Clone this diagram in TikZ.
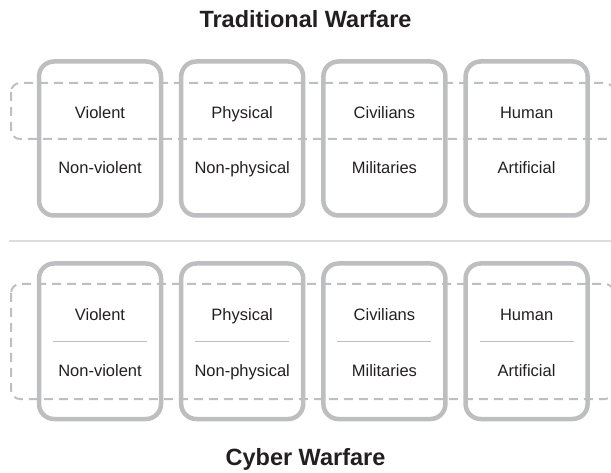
\documentclass[tikz,border=0pt]{standalone}
\usepackage{fontspec}
\setmainfont{Liberation Sans}
\definecolor{boxgray}{RGB}{188,190,192}
\definecolor{dashgray}{RGB}{190,191,193}
\definecolor{rulegray}{RGB}{221,221,221}
\definecolor{thingray}{RGB}{190,190,190}
\definecolor{textdark}{RGB}{35,31,32}
\begin{document}
\begin{tikzpicture}[x=1pt,y=-1pt,
  panel/.style={draw=boxgray, line width=4.5pt, rounded corners=15pt,
    minimum width=122pt, inner sep=0pt, outer sep=0pt},
  band/.style={draw=dashgray, line width=2pt, dash pattern=on 9pt off 6pt,
    rounded corners=9pt},
  lbl/.style={font=\fontsize{16.5}{19}\selectfont, text=textdark, anchor=base},
  heading/.style={font=\fontsize{23.5}{27}\selectfont\bfseries, text=textdark, anchor=base}
]
\useasboundingbox (0,0) rectangle (611,473);
\clip (0,0) rectangle (611,473);

% headings
\node[heading] (tw) at (305.5,28) {Traditional Warfare};
\node[heading] (cw) at (305.5,465) {Cyber Warfare};

% dashed bands behind the panels
\draw[band] (11,83) rectangle (614,139);
\draw[band] (11,284) rectangle (614,399);

% rule between the two halves
\coordinate (ruleL) at (9,241);
\coordinate (ruleR) at (611,241);
\draw[rulegray, line width=2pt] (ruleL) -- (ruleR);

% panels
\foreach \i/\cx/\a/\b in {1/100/Violent/Non-violent,
                          2/242.2/Physical/Non-physical,
                          3/384.4/Civilians/Militaries,
                          4/526.6/Human/Artificial}{
  % traditional warfare
  \node[panel, minimum height=154pt] (tp\i) at (\cx,138.5) {};
  \node[lbl] (ta\i) at (\cx,118.9) {\a};
  \node[lbl] (tb\i) at (\cx,173.9) {\b};
  % cyber warfare
  \node[panel, minimum height=155.5pt] (cp\i) at (\cx,341.25) {};
  \node[lbl] (ca\i) at (\cx,320.9) {\a};
  \node[lbl] (cb\i) at (\cx,376.9) {\b};
  \draw[thingray, line width=1pt] ([xshift=-47pt]cp\i.center) -- ([xshift=47pt]cp\i.center);
}
\end{tikzpicture}
\end{document}
